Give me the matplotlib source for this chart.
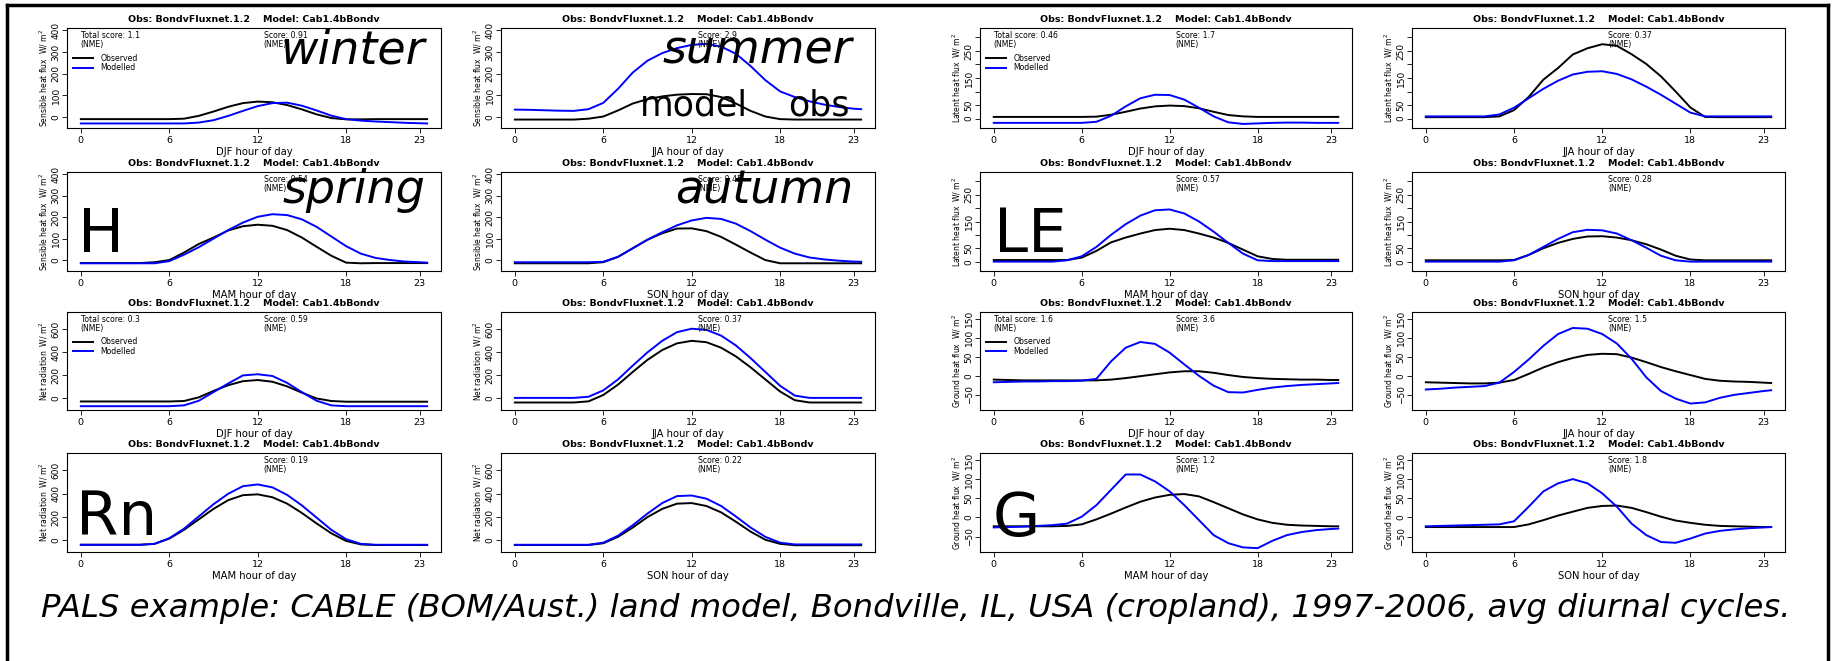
import matplotlib.pyplot as plt
from matplotlib.lines import Line2D
from matplotlib.transforms import blended_transform_factory

# hour of day (last point is the half hour before midnight)
hours = list(range(24)) + [23.5]

# sensible heat H
h_djf_obs = [-10,-10,-10,-10,-10,-10,-10,-8,5,25,47,64,71,68,55,35,12,-5,-11,-11,-10,-10,-10,-10,-10]
h_djf_mod = [-30,-30,-30,-30,-30,-30,-30,-30,-26,-15,5,28,50,64,66,52,30,6,-10,-17,-21,-24,-27,-29,-30]
h_jja_obs = [-12,-12,-12,-12,-12,-8,2,30,62,82,95,103,106,105,92,62,28,2,-10,-12,-12,-12,-12,-12,-12]
h_jja_mod = [34,33,31,29,28,36,65,130,205,260,295,318,333,338,325,292,235,170,118,92,72,57,46,38,36]
h_mam_obs = [-14,-14,-14,-14,-14,-10,0,35,75,105,138,158,165,160,140,105,62,20,-12,-15,-14,-14,-14,-14,-14]
h_mam_mod = [-15,-15,-15,-15,-15,-15,-5,25,60,100,140,175,202,214,210,190,155,110,65,30,10,0,-7,-10,-12]
h_son_obs = [-15,-15,-15,-15,-15,-15,-10,15,55,95,125,147,148,135,108,72,35,0,-15,-15,-15,-15,-15,-15,-15]
h_son_mod = [-10,-10,-10,-10,-10,-10,-8,15,55,95,130,162,185,197,192,170,135,95,58,30,12,3,-3,-7,-8]

# latent heat LE
le_djf_obs = [6,6,6,6,6,6,6,7,14,25,37,45,48,46,38,25,13,8,6,6,6,6,6,6,6]
le_djf_mod = [-16,-16,-16,-16,-16,-16,-16,-12,10,45,75,88,87,70,40,8,-14,-20,-18,-16,-15,-15,-16,-16,-16]
le_jja_obs = [5,5,5,5,5,8,31,80,144,187,237,260,275,269,238,202,156,100,41,6,5,5,5,5,5]
le_jja_mod = [8,8,8,8,8,15,40,75,110,140,163,173,175,165,145,118,88,55,22,8,8,8,8,8,8]
le_mam_obs = [6,6,6,6,6,6,15,40,72,90,105,118,123,118,105,90,70,45,20,10,7,7,7,7,7]
le_mam_mod = [0,0,0,0,0,5,20,55,100,140,172,192,195,180,150,112,70,30,5,2,2,2,2,2,2]
le_son_obs = [5,5,5,5,5,5,6,25,50,70,85,94,95,90,80,65,45,22,8,5,5,5,5,5,5]
le_son_mod = [0,0,0,0,0,0,5,25,55,85,110,119,117,105,80,52,22,5,0,0,0,0,0,0,0]

# net radiation Rn
rn_djf_obs = [-26,-26,-26,-26,-26,-26,-26,-22,10,65,115,150,160,145,105,50,0,-22,-28,-28,-28,-28,-28,-28,-28]
rn_djf_mod = [-67,-67,-67,-67,-67,-67,-67,-60,-20,55,130,200,210,195,135,55,-20,-60,-67,-67,-67,-67,-67,-67,-67]
rn_jja_obs = [-35,-35,-35,-35,-35,-25,30,120,230,335,420,478,500,488,440,365,270,165,60,-15,-35,-35,-35,-35,-35]
rn_jja_mod = [5,5,5,5,5,15,70,165,285,400,500,575,605,595,545,460,350,230,110,25,5,5,5,5,5]
rn_mam_obs = [-38,-38,-38,-38,-38,-30,15,90,180,270,345,388,395,370,315,235,145,60,-5,-35,-40,-40,-40,-40,-40]
rn_mam_mod = [-38,-38,-38,-38,-38,-30,18,100,205,310,400,465,480,455,390,300,195,90,10,-30,-38,-38,-38,-38,-38]
rn_son_obs = [-40,-40,-40,-40,-40,-40,-25,30,110,200,270,315,320,295,240,160,75,5,-30,-42,-42,-42,-42,-42,-42]
rn_son_mod = [-38,-38,-38,-38,-38,-38,-20,40,130,230,320,380,385,358,295,205,110,30,-20,-35,-35,-35,-35,-35,-35]

# ground heat G
g_djf_obs = [-10,-11,-12,-12,-12,-12,-12,-12,-10,-6,-1,4,9,12,12,8,2,-3,-6,-8,-9,-10,-10,-11,-11]
g_djf_mod = [-17,-16,-15,-15,-14,-14,-13,-8,38,74,89,84,61,30,0,-26,-43,-44,-37,-31,-27,-24,-22,-20,-19]
g_jja_obs = [-17,-18,-19,-20,-20,-18,-11,5,22,36,47,55,58,57,48,36,23,12,2,-8,-13,-15,-16,-18,-19]
g_jja_mod = [-36,-34,-31,-29,-27,-18,10,43,79,110,126,124,110,85,45,-4,-40,-60,-73,-70,-58,-50,-45,-40,-38]
g_mam_obs = [-23,-23,-23,-23,-23,-22,-18,-5,10,26,41,52,59,61,55,40,24,8,-5,-14,-19,-21,-22,-23,-23]
g_mam_mod = [-26,-25,-24,-22,-20,-16,2,32,72,112,112,94,68,32,-7,-46,-67,-78,-80,-61,-46,-38,-33,-30,-29]
g_son_obs = [-25,-25,-25,-25,-25,-25,-25,-18,-7,5,15,25,30,31,25,14,2,-8,-14,-19,-22,-23,-24,-25,-25]
g_son_mod = [-23,-22,-21,-20,-19,-18,-10,28,68,89,100,89,63,28,-16,-46,-64,-66,-55,-42,-35,-31,-28,-26,-25]

seasons = ['DJF', 'JJA', 'MAM', 'SON']
h_scores = ['0.91', '2.9', '0.54', '0.45']
le_scores = ['1.7', '0.37', '0.57', '0.28']
rn_scores = ['0.59', '0.37', '0.19', '0.22']
g_scores = ['3.6', '1.5', '1.2', '1.8']
total_scores = {'H': '1.1', 'LE': '0.46', 'Rn': '0.3', 'G': '1.6'}

data = {
    'H': [(h_djf_obs, h_djf_mod), (h_jja_obs, h_jja_mod), (h_mam_obs, h_mam_mod), (h_son_obs, h_son_mod)],
    'LE': [(le_djf_obs, le_djf_mod), (le_jja_obs, le_jja_mod), (le_mam_obs, le_mam_mod), (le_son_obs, le_son_mod)],
    'Rn': [(rn_djf_obs, rn_djf_mod), (rn_jja_obs, rn_jja_mod), (rn_mam_obs, rn_mam_mod), (rn_son_obs, rn_son_mod)],
    'G': [(g_djf_obs, g_djf_mod), (g_jja_obs, g_jja_mod), (g_mam_obs, g_mam_mod), (g_son_obs, g_son_mod)],
}
scores = {'H': h_scores, 'LE': le_scores, 'Rn': rn_scores, 'G': g_scores}

# name, ylabel, ylim, ticks, tick labels, block row, block col
blocks = [
    ('H', 'Sensible heat flux', (-51, 411), [0, 100, 200, 300, 400], None, 0, 0),
    ('LE', 'Latent heat flux', (-35, 335), [0, 50, 100, 150, 200, 250, 300],
     ['0', '50', '', '150', '', '250', ''], 0, 2),
    ('Rn', 'Net radiation', (-100, 750), [0, 200, 400, 600], None, 2, 0),
    ('G', 'Ground heat flux', (-90, 168), [-50, 0, 50, 100, 150], None, 2, 2),
]

W, H = 1832, 661
fig = plt.figure(figsize=(W / 100, H / 100), dpi=100)
plt.rcParams['font.family'] = 'DejaVu Sans'

cols = [(67, 441), (501, 875), (980, 1352), (1412, 1785)]
rows = [(28, 128), (172, 271), (312, 410), (453, 552)]
title = 'Obs: BondvFluxnet.1.2    Model: Cab1.4bBondv'

for name, ylab, ylim, ticks, tlabels, br, bc in blocks:
    for k, season in enumerate(seasons):
        r, c = br + k // 2, bc + k % 2
        l, rgt = cols[c]
        t, b = rows[r]
        ax = fig.add_axes([l / W, 1 - b / H, (rgt - l) / W, (b - t) / H])
        obs, mod = data[name][k]
        ax.plot(hours, obs, color='black', lw=1.4, label='Observed')
        ax.plot(hours, mod, color='#0000ff', lw=1.4, label='Modelled')
        ax.set_xlim(-0.94, 24.44)
        ax.set_ylim(*ylim)
        ax.set_xticks([0, 6, 12, 18, 23])
        ax.set_yticks(ticks)
        if tlabels is not None:
            ax.set_yticklabels(tlabels)
        ax.tick_params(direction='out', length=3.5, width=0.6, labelsize=6.8, pad=2)
        ax.tick_params(axis='y', labelrotation=90, labelsize=6.5, pad=1)
        for lbl in ax.get_yticklabels():
            lbl.set_va('center')
        for sp in ax.spines.values():
            sp.set_linewidth(0.8)
        ax.set_xlabel(f'{season} hour of day', fontsize=7.2, labelpad=1.5)
        ax.set_ylabel(ylab + r'  W/ m$^2$', fontsize=5.5, labelpad=1)
        ax.set_title(title, fontsize=6.8, fontweight='bold', pad=4)
        tr = blended_transform_factory(ax.transData, ax.transAxes)
        ax.text(12.4, 0.97, f'Score: {scores[name][k]}\n(NME)', transform=tr,
                fontsize=5.6, va='top', ha='left', linespacing=0.95)
        if season == 'DJF':
            ax.text(0, 0.97, f'Total score: {total_scores[name]}\n(NME)', transform=tr,
                    fontsize=5.6, va='top', ha='left', linespacing=0.95)
            ax.legend(loc='upper left', bbox_to_anchor=(0.015, 0.74), frameon=False,
                      fontsize=5.6, handlelength=2.6, handletextpad=1.0,
                      labelspacing=0.05, borderaxespad=0, borderpad=0)

def put(x, y, s, size, style='normal'):
    fig.text(x / W, 1 - y / H, s, fontsize=size, style=style, va='baseline', ha='left')

put(280, 63, 'winter', 33, 'italic')
put(662, 63, 'summer', 33, 'italic')
put(282, 203, 'spring', 33, 'italic')
put(675, 203, 'autumn', 33, 'italic')
put(640, 115, 'model', 25)
put(788, 115, 'obs', 25)
put(78, 252, 'H', 44)
put(994, 252, 'LE', 44)
put(76, 535, 'Rn', 44)
put(993, 536, 'G', 44)
put(41, 617, 'PALS example: CABLE (BOM/Aust.) land model, Bondville, IL, USA (cropland), '
    '1997-2006, avg diurnal cycles.', 23.2, 'italic')

# slide frame
for xs, ys in [([7, 7], [5, 661]), ([7, 1828], [5, 5]), ([1828, 1828], [5, 661])]:
    fig.add_artist(Line2D([x / W for x in xs], [1 - y / H for y in ys],
                          transform=fig.transFigure, color='black', lw=2.5))

fig.savefig('out.png', dpi=100)
